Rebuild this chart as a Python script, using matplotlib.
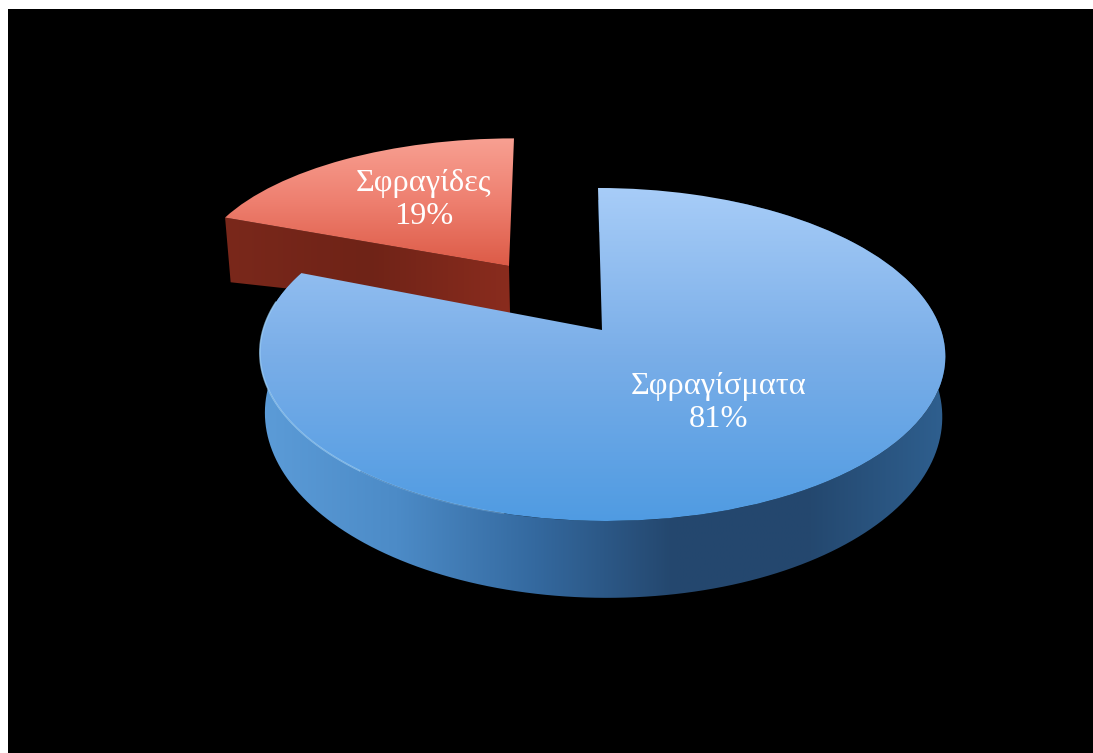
import numpy as np
import matplotlib
matplotlib.use('Agg')
import matplotlib.pyplot as plt
from matplotlib.colors import LinearSegmentedColormap
from matplotlib.patches import PathPatch, Polygon, Rectangle
from matplotlib.path import Path

# Data
labels = ['Σφραγίσματα', 'Σφραγίδες']
values = [81, 19]

W, H = 1093, 753

# projection of the unit pie onto pixels: (x0, y0, sx, sy, k, shear)
blue_top = dict(x0=602, y0=330, sx=339, sy=162.9, k=0.147, shear=-4)
blue_bottom = dict(x0=603, y0=388, sx=335, sy=179, k=0.147, shear=-4)
red_top = dict(x0=509, y0=266, sx=313, sy=134, k=0.05, shear=5)
red_bottom = dict(x0=510, y0=313, sx=308, sy=85, k=0.05, shear=5)


def project(u, v, p):
    d = 1 + p['k'] * v
    return p['x0'] + p['sx'] * u / d + p['shear'] * v, p['y0'] - p['sy'] * v / d


def arc(theta1, theta2, p, n=200):
    t = np.radians(np.linspace(theta1, theta2, n))
    x, y = project(np.cos(t), np.sin(t), p)
    return np.column_stack([x, y])


def gradient(ax, clip, stops, extent, z, vertical=True):
    cmap = LinearSegmentedColormap.from_list('g', stops)
    g = np.linspace(0, 1, 256)
    g = g[:, None] if vertical else g[None, :]
    im = ax.imshow(g, cmap=cmap, extent=extent, aspect='auto', origin='upper',
                   vmin=0, vmax=1, interpolation='bilinear', zorder=z)
    im.set_clip_path(clip)
    return im


fig = plt.figure(figsize=(W / 100, H / 100), dpi=100, facecolor='white')
ax = fig.add_axes([0, 0, 1, 1])

wedges, _ = ax.pie(values, startangle=90, counterclock=False)
blue_w, red_w = wedges
blue_path = blue_w.get_path()
red_path = red_w.get_path()
blue_t = (blue_w.theta1, blue_w.theta2)
red_t = (red_w.theta1, red_w.theta2)
blue_w.remove()
red_w.remove()

ax.set_aspect('auto')
ax.set_xlim(0, W)
ax.set_ylim(H, 0)
ax.add_patch(Rectangle((8, 9), W, H, fc='black', ec='none', zorder=0))

# red slice, cut face then top
end = np.radians(red_t[1])
a = project(np.cos(end), np.sin(end), red_top)
b = project(np.cos(end), np.sin(end), red_bottom)
face = Polygon([a, (red_top['x0'], red_top['y0']), (red_bottom['x0'], red_bottom['y0']), b],
               closed=True, fc='none', ec='none')
ax.add_patch(face)
gradient(ax, face, ['#7a281b', '#6f2317', '#8a2c1e'], (225, 512, 320, 210), 1, vertical=False)

xy = project(red_path.vertices[:, 0], red_path.vertices[:, 1], red_top)
red_patch = PathPatch(Path(np.column_stack(xy), red_path.codes), fc='none', ec='none')
ax.add_patch(red_patch)
gradient(ax, red_patch, ['#f8a193', '#ee7f6f', '#dc5a46'], (220, 520, 268, 136), 2)

# blue slice, outer wall then top
wall = Polygon(np.vstack([arc(*blue_t, blue_top), arc(*blue_t, blue_bottom)[::-1]]),
               closed=True, fc='none', ec='none')
ax.add_patch(wall)
gradient(ax, wall, ['#5c9cd8', '#4c8bc7', '#34699f', '#24476e', '#24486f', '#2f6090'],
         (258, 950, 600, 200), 3, vertical=False)

xy = project(blue_path.vertices[:, 0], blue_path.vertices[:, 1], blue_top)
blue_patch = PathPatch(Path(np.column_stack(xy), blue_path.codes), fc='none', ec='none')
ax.add_patch(blue_patch)
gradient(ax, blue_patch, ['#a8cdf8', '#7aaee8', '#4f9be2'], (255, 950, 523, 186), 4)

# light rim on the front left edge, fading towards the middle
ax.plot(*arc(-190, -130, blue_top).T, color='#9ed0f8', lw=1.2, alpha=0.7, zorder=5)
ax.plot(*arc(-130, -105, blue_top).T, color='#9ed0f8', lw=1.0, alpha=0.35, zorder=5)

ax.set_xlim(0, W)
ax.set_ylim(H, 0)

font = ['Liberation Serif', 'DejaVu Serif']
ax.text(719, 403, f'{labels[0]}\n{values[0]}%', color='white', fontsize=23.3, family=font,
        ha='center', va='center', linespacing=1.15, zorder=6)
ax.text(424, 200, f'{labels[1]}\n{values[1]}%', color='white', fontsize=23.3, family=font,
        ha='center', va='center', linespacing=1.15, zorder=6)

fig.savefig('out.png', dpi=100, facecolor='white')
